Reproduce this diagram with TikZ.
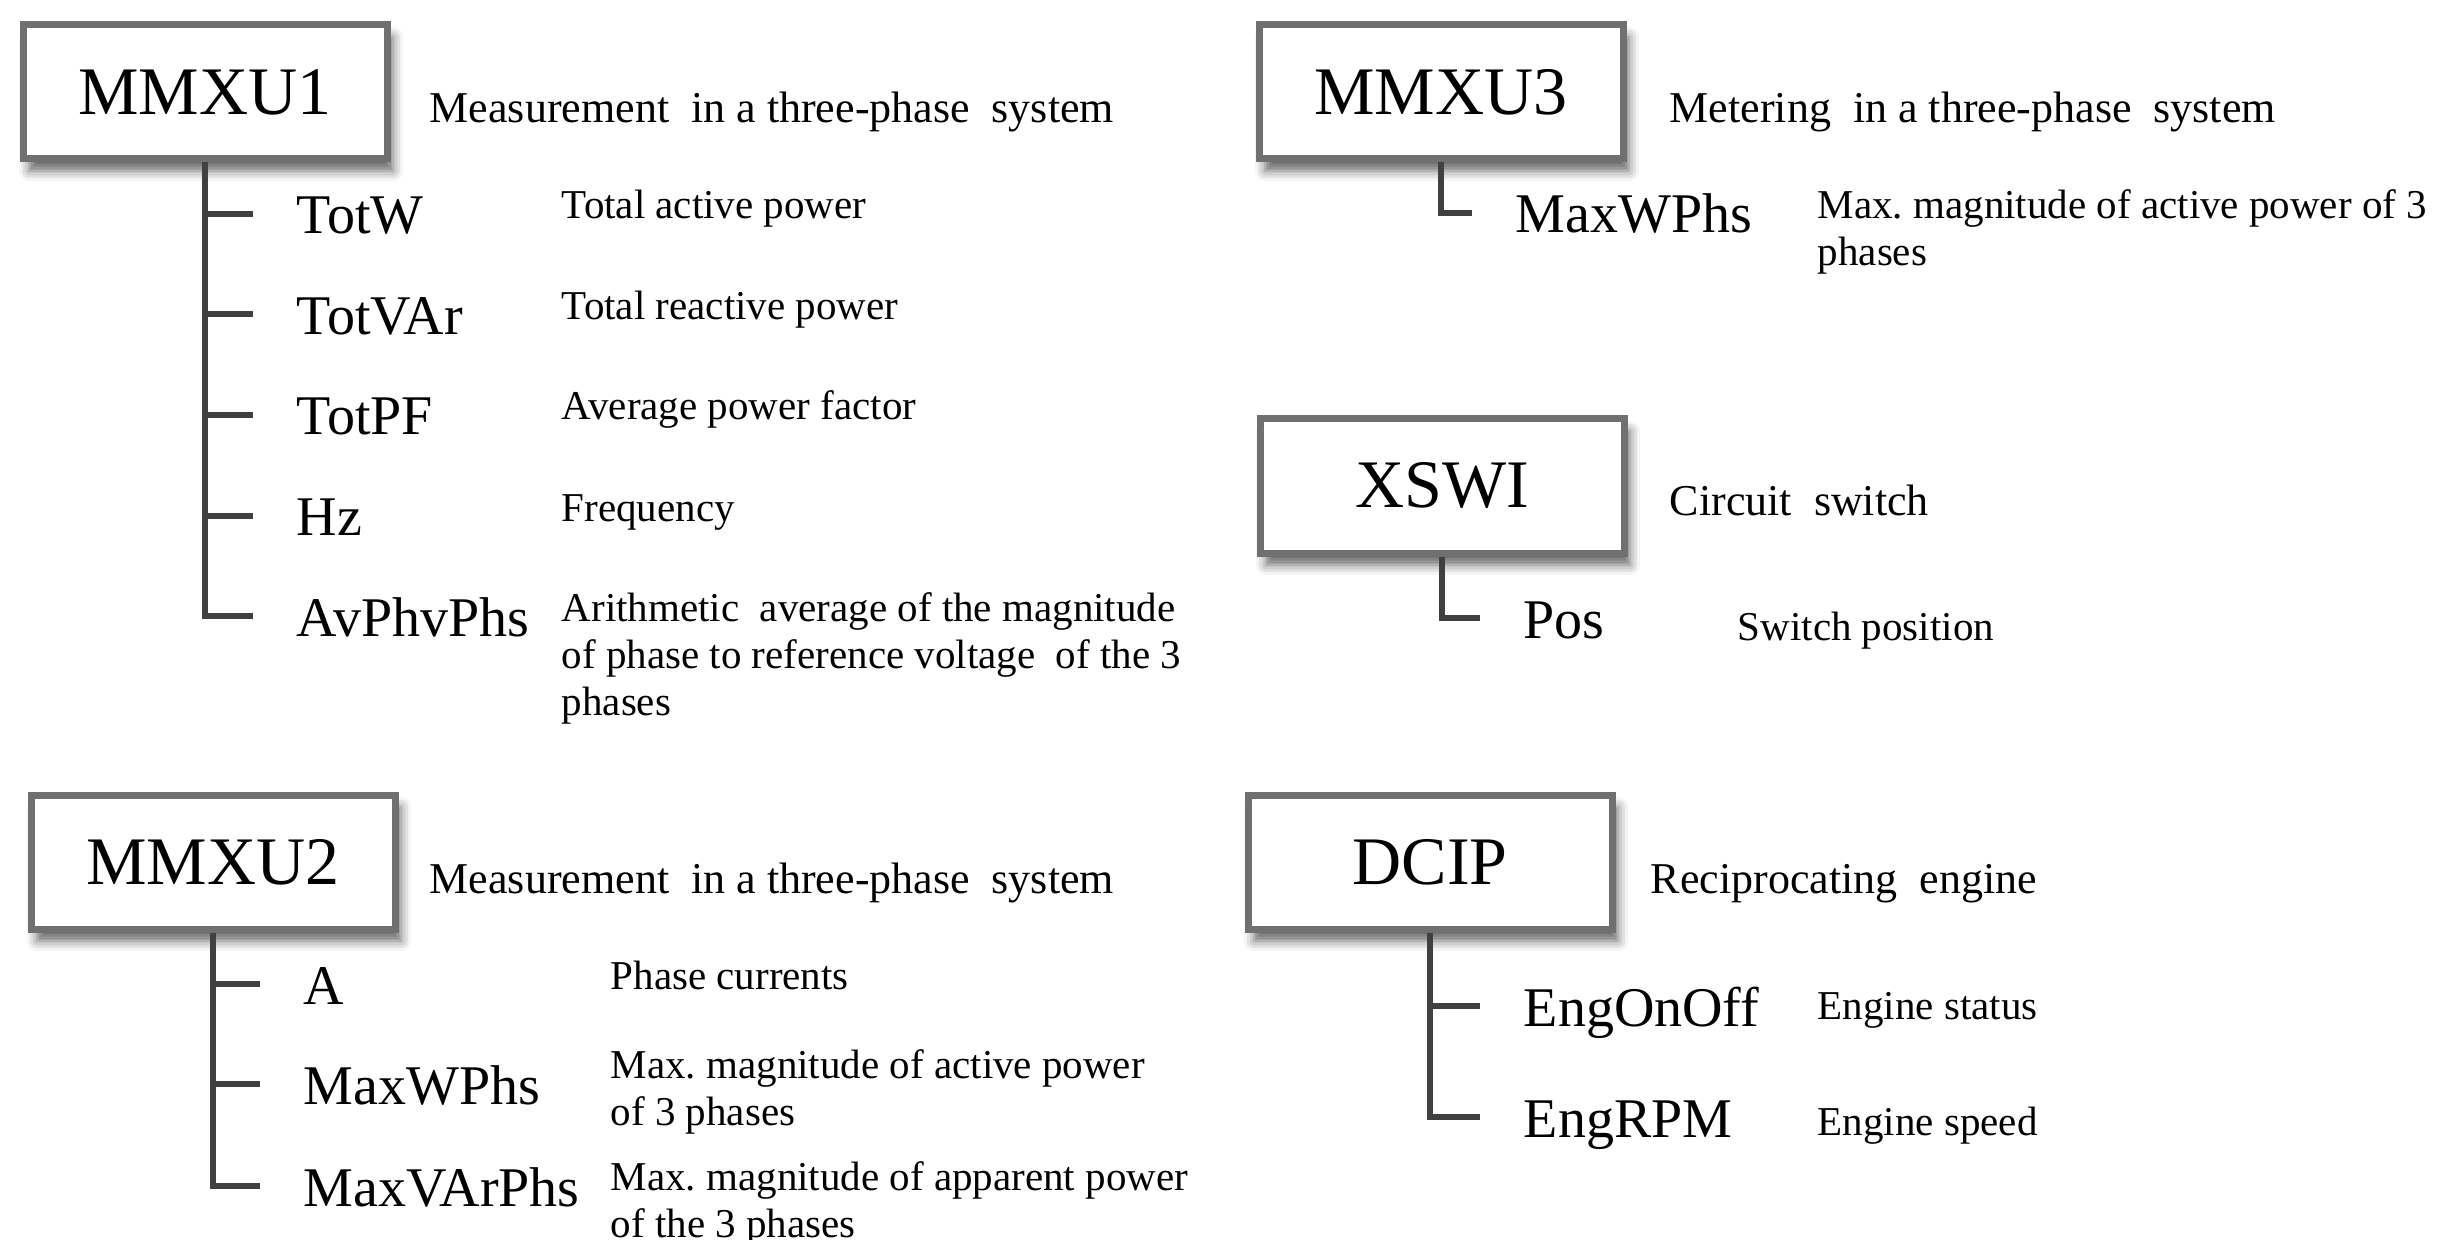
\documentclass[tikz,border=0pt]{standalone}
\usepackage{fontspec}
\setmainfont{Liberation Serif}
\usetikzlibrary{shadows.blur}

\definecolor{boxgray}{RGB}{112,112,112}
\definecolor{treegray}{RGB}{64,64,64}

\tikzset{
  lnbox/.style={draw=boxgray, line width=1.75pt, fill=white, inner sep=0pt,
    minimum width=91pt, minimum height=33.5pt, font=\fontsize{17}{20}\selectfont,
    blur shadow={shadow xshift=1.5pt, shadow yshift=-3pt, shadow blur radius=2.5pt, shadow opacity=60}},
  dobj/.style={anchor=west, inner sep=0pt, text height=12pt, text depth=2pt, font=\fontsize{14}{16}\selectfont},
  head/.style={anchor=base west, inner sep=0pt, font=\fontsize{11}{13}\selectfont},
  % base of a multi-line info is its last line
  info/.style={anchor=base west, inner sep=0pt, align=left, font=\fontsize{10.25}{11.75}\selectfont},
  tree/.style={draw=treegray, line width=1.5pt, shorten >=10.75pt}
}

\begin{document}
\begin{tikzpicture}[x=0.25pt, y=-0.25pt]
  \useasboundingbox (0,0) rectangle (2439,1240);

  % MMXU1
  \node[lnbox] (mmxu1) at (205,92) {MMXU1};
  \node[head] (mmxu1h) at (429,123) {Measurement\ \ in a three-phase\ \ system};
  \node[dobj] (totw) at (296,214) {TotW};
  \node[dobj] (totvar) at (296,314.5) {TotVAr};
  \node[dobj] (totpf) at (296,415) {TotPF};
  \node[dobj] (hz) at (296,515.5) {Hz};
  \node[dobj] (avphv) at (296,616) {AvPhvPhs};
  \node[info] at (561,219) {Total active power};
  \node[info] at (561,320) {Total reactive power};
  \node[info] at (561,420) {Average power factor};
  \node[info] at (561,521) {Frequency};
  \node[info] at (561,715) {Arithmetic\ \ average of the magnitude\\of phase to reference voltage\ \ of the 3\\phases};
  \foreach \c in {totw,totvar,totpf,hz,avphv}
    \draw[tree] (mmxu1.south) |- (\c.west);

  % MMXU2
  \node[lnbox] (mmxu2) at (213,862) {MMXU2};
  \node[head] (mmxu2h) at (429,893) {Measurement\ \ in a three-phase\ \ system};
  \node[dobj] (amp) at (303,984) {A};
  \node[dobj] (maxw2) at (303,1084) {MaxWPhs};
  \node[dobj] (maxvar) at (303,1186) {MaxVArPhs};
  \node[info] at (610,989) {Phase currents};
  \node[info] at (610,1125) {Max.\ magnitude of active power\\of 3 phases};
  \node[info] at (610,1237) {Max.\ magnitude of apparent power\\of the 3 phases};
  \foreach \c in {amp,maxw2,maxvar}
    \draw[tree] (mmxu2.south) |- (\c.west);

  % MMXU3
  \node[lnbox] (mmxu3) at (1441,92) {MMXU3};
  \node[head] (mmxu3h) at (1669,123) {Metering\ \ in a three-phase\ \ system};
  \node[dobj] (maxw3) at (1515,213) {MaxWPhs};
  \node[info] at (1817,266) {Max.\ magnitude of active power of 3\\phases};
  \draw[tree] (mmxu3.south) |- (maxw3.west);

  % XSWI
  \node[lnbox] (xswi) at (1442,486) {XSWI};
  \node[head] (xswih) at (1669,515) {Circuit\ \ switch};
  \node[dobj] (pos) at (1523,618) {Pos};
  \node[info] at (1737,640) {Switch position};
  \draw[tree] (xswi.south) |- (pos.west);

  % DCIP
  \node[lnbox] (dcip) at (1430,862) {DCIP};
  \node[head] (dciph) at (1650,893) {Reciprocating\ \ engine};
  \node[dobj] (engon) at (1523,1006) {EngOnOff};
  \node[dobj] (engrpm) at (1523,1117) {EngRPM};
  \node[info] at (1817,1019) {Engine status};
  \node[info] at (1817,1135) {Engine speed};
  \foreach \c in {engon,engrpm}
    \draw[tree] (dcip.south) |- (\c.west);
\end{tikzpicture}
\end{document}
